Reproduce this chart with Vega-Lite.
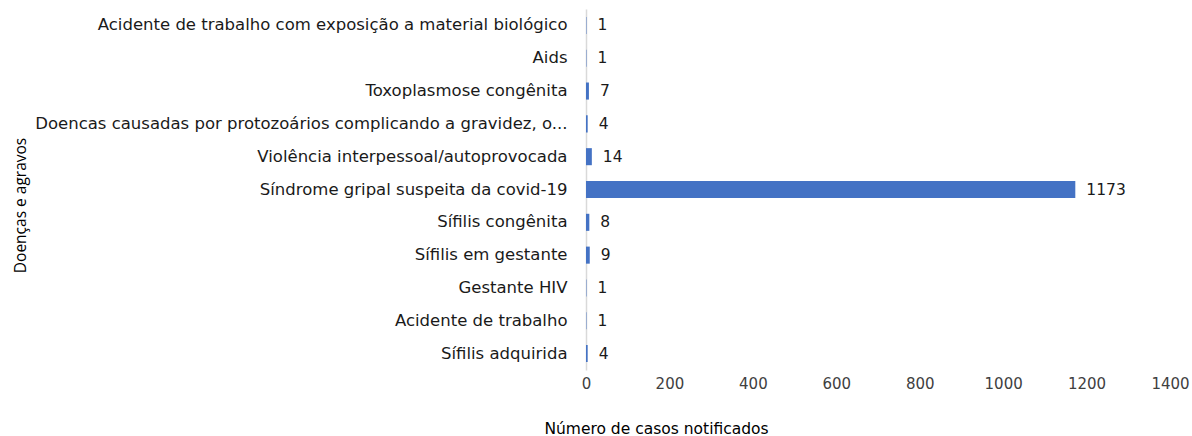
{
  "$schema": "https://vega.github.io/schema/vega-lite/v6.json",
  "autosize": "none",
  "padding": {"left": 586, "top": 9, "right": 22, "bottom": 66},
  "width": 584,
  "height": 361,
  "background": "white",
  "data": {
    "values": [
      {"agravo": "Acidente de trabalho com exposição a material biológico", "casos": 1},
      {"agravo": "Aids ", "casos": 1},
      {"agravo": "Toxoplasmose congênita", "casos": 7},
      {"agravo": "Doencas causadas por protozoários complicando a gravidez, o...", "casos": 4},
      {"agravo": "Violência interpessoal/autoprovocada", "casos": 14},
      {"agravo": "Síndrome gripal suspeita da covid-19", "casos": 1173},
      {"agravo": "Sífilis congênita", "casos": 8},
      {"agravo": "Sífilis em gestante ", "casos": 9},
      {"agravo": "Gestante HIV", "casos": 1},
      {"agravo": "Acidente de trabalho", "casos": 1},
      {"agravo": "Sífilis adquirida ", "casos": 4}
    ]
  },
  "encoding": {
    "y": {
      "field": "agravo",
      "type": "nominal",
      "sort": null,
      "scale": {"paddingInner": 0.48, "paddingOuter": 0.24},
      "axis": {
        "title": "Doenças e agravos",
        "titleFont": "Open Sans",
        "titleFontSize": 15.5,
        "titleFontWeight": "normal",
        "titleColor": "#000000",
        "titleAngle": -90,
        "titleX": -566,
        "titleY": 196,
        "titleAlign": "center",
        "titleBaseline": "middle",
        "labelFont": "DejaVu Sans",
        "labelFontSize": 16.5,
        "labelColor": "#1a1a1a",
        "labelPadding": 19,
        "labelLimit": 700,
        "ticks": false,
        "domainColor": "#d9d9d9",
        "domainWidth": 1.5,
        "grid": false
      }
    },
    "x": {
      "field": "casos",
      "type": "quantitative",
      "scale": {"domain": [0, 1400], "nice": false},
      "axis": {
        "title": "Número de casos notificados",
        "titleFont": "DejaVu Sans",
        "titleFontSize": 15.5,
        "titleFontWeight": "normal",
        "titleColor": "#000000",
        "titleX": 70,
        "titleY": 58,
        "titleAlign": "center",
        "titleBaseline": "middle",
        "values": [0, 200, 400, 600, 800, 1000, 1200, 1400],
        "format": "d",
        "labelFlush": false,
        "labelFont": "DejaVu Sans",
        "labelFontSize": 15,
        "labelColor": "#404040",
        "labelPadding": 6,
        "ticks": false,
        "domain": false,
        "grid": false
      }
    }
  },
  "layer": [
    {"mark": {"type": "bar", "color": "#4472c4"}},
    {
      "mark": {"type": "text", "align": "left", "baseline": "middle", "dx": 11, "font": "DejaVu Sans", "fontSize": 15.5, "color": "#1a1a1a"},
      "encoding": {"text": {"field": "casos", "type": "quantitative"}}
    }
  ],
  "config": {"view": {"stroke": null}}
}
